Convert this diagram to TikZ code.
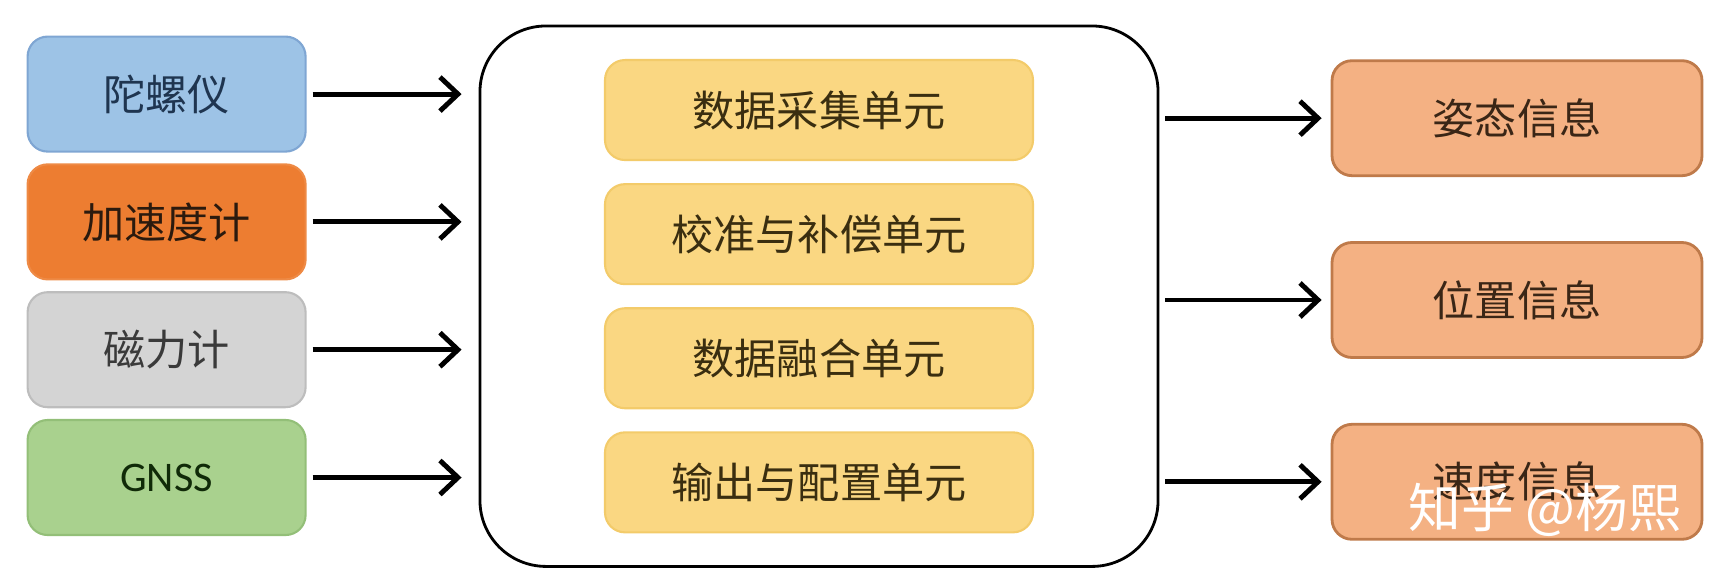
\documentclass[tikz,border=0pt]{standalone}
\usepackage{fontspec}
\setmainfont{Noto Sans CJK SC}
\newfontfamily\latinfont{Carlito}
\usepackage{tikz}
\usetikzlibrary{arrows.meta,positioning,fit}

\definecolor{gyrofill}{HTML}{9DC3E6}
\definecolor{gyroedge}{HTML}{7FA6D3}
\definecolor{gyrotext}{HTML}{1F3550}
\definecolor{accelfill}{HTML}{ED7D31}
\definecolor{acceledge}{HTML}{EE8A45}
\definecolor{acceltext}{HTML}{2B1A0E}
\definecolor{magfill}{HTML}{D4D4D4}
\definecolor{magedge}{HTML}{BDBDBD}
\definecolor{magtext}{HTML}{3A3A3A}
\definecolor{gnssfill}{HTML}{A9D18E}
\definecolor{gnssedge}{HTML}{93BF78}
\definecolor{gnsstext}{HTML}{102A08}
\definecolor{unitfill}{HTML}{FAD782}
\definecolor{unitedge}{HTML}{F3CB6A}
\definecolor{unittext}{HTML}{3A2E10}
\definecolor{infofill}{HTML}{F4B183}
\definecolor{infoedge}{HTML}{BF7A4A}
\definecolor{infotext}{HTML}{3A2616}

\begin{document}
\begin{tikzpicture}
  [font=\fontsize{12}{14}\selectfont,
  sensor/.style={rectangle, rounded corners=2mm, line width=0.6pt,
    minimum width=2.78cm, minimum height=1.15cm},
  unit/.style={rectangle, draw=unitedge, fill=unitfill, text=unittext,
    rounded corners=2mm, line width=0.6pt, minimum width=4.28cm,
    minimum height=1.0cm},
  info/.style={rectangle, draw=infoedge, fill=infofill, text=infotext,
    rounded corners=2mm, line width=0.8pt, minimum width=3.70cm,
    minimum height=1.15cm},
  core/.style={rectangle, draw, line width=0.8pt, rounded corners=6.6mm},
  watermark/.style={text=white, font=\fontsize{15}{17}\selectfont},
  line/.style={draw, line width=1.4pt,
    -{Straight Barb[length=1.8mm,width=3.4mm]}}]
  \useasboundingbox (0,0) rectangle (17.30,-5.87);
  \matrix (sensors) at (1.666,-2.858) [row sep=1.07mm] {
    % row 1
    \node [sensor, draw=gyroedge, fill=gyrofill, text=gyrotext] (gyro) {陀螺仪}; \\
    % row 2
    \node [sensor, draw=acceledge, fill=accelfill, text=acceltext] (accel) {加速度计}; \\
    % row 3
    \node [sensor, draw=magedge, fill=magfill, text=magtext] (mag) {磁力计}; \\
    % row 4
    \node [sensor, draw=gnssedge, fill=gnssfill, text=gnsstext] (gnss) {\latinfont GNSS}; \\
  };
  \matrix (units) at (8.19,-2.962) [row sep=2.2mm] {
    \node [unit] (acq) {数据采集单元}; \\
    \node [unit] (calib) {校准与补偿单元}; \\
    \node [unit] (fusion) {数据融合单元}; \\
    \node [unit] (outcfg) {输出与配置单元}; \\
  };
  \node [core, fit=(acq) (outcfg), inner xsep=1.24cm, inner ysep=0.33cm] (core) {};
  \matrix (outputs) at (15.17,-3.0) [row sep=6.4mm] {
    \node [info] (attitude) {姿态信息}; \\
    \node [info] (position) {位置信息}; \\
    \node [info] (velocity) {速度信息}; \\
  };
  \node [watermark] (zhihu) at (15.45,-5.10) {知乎 @杨熙};
  \begin{scope}[every path/.style=line]
    \path [shorten <=0.6mm, shorten >=1.7mm] (gyro) -- (gyro -| core.west);
    \path [shorten <=0.6mm, shorten >=1.7mm] (accel) -- (accel -| core.west);
    \path [shorten <=0.6mm, shorten >=1.7mm] (mag) -- (mag -| core.west);
    \path [shorten <=0.6mm, shorten >=1.7mm] (gnss) -- (gnss -| core.west);
    \path [shorten <=0.6mm, shorten >=0.9mm] (core.east |- attitude) -- (attitude);
    \path [shorten <=0.6mm, shorten >=0.9mm] (core.east |- position) -- (position);
    \path [shorten <=0.6mm, shorten >=0.9mm] (core.east |- velocity) -- (velocity);
  \end{scope}
\end{tikzpicture}
\end{document}
